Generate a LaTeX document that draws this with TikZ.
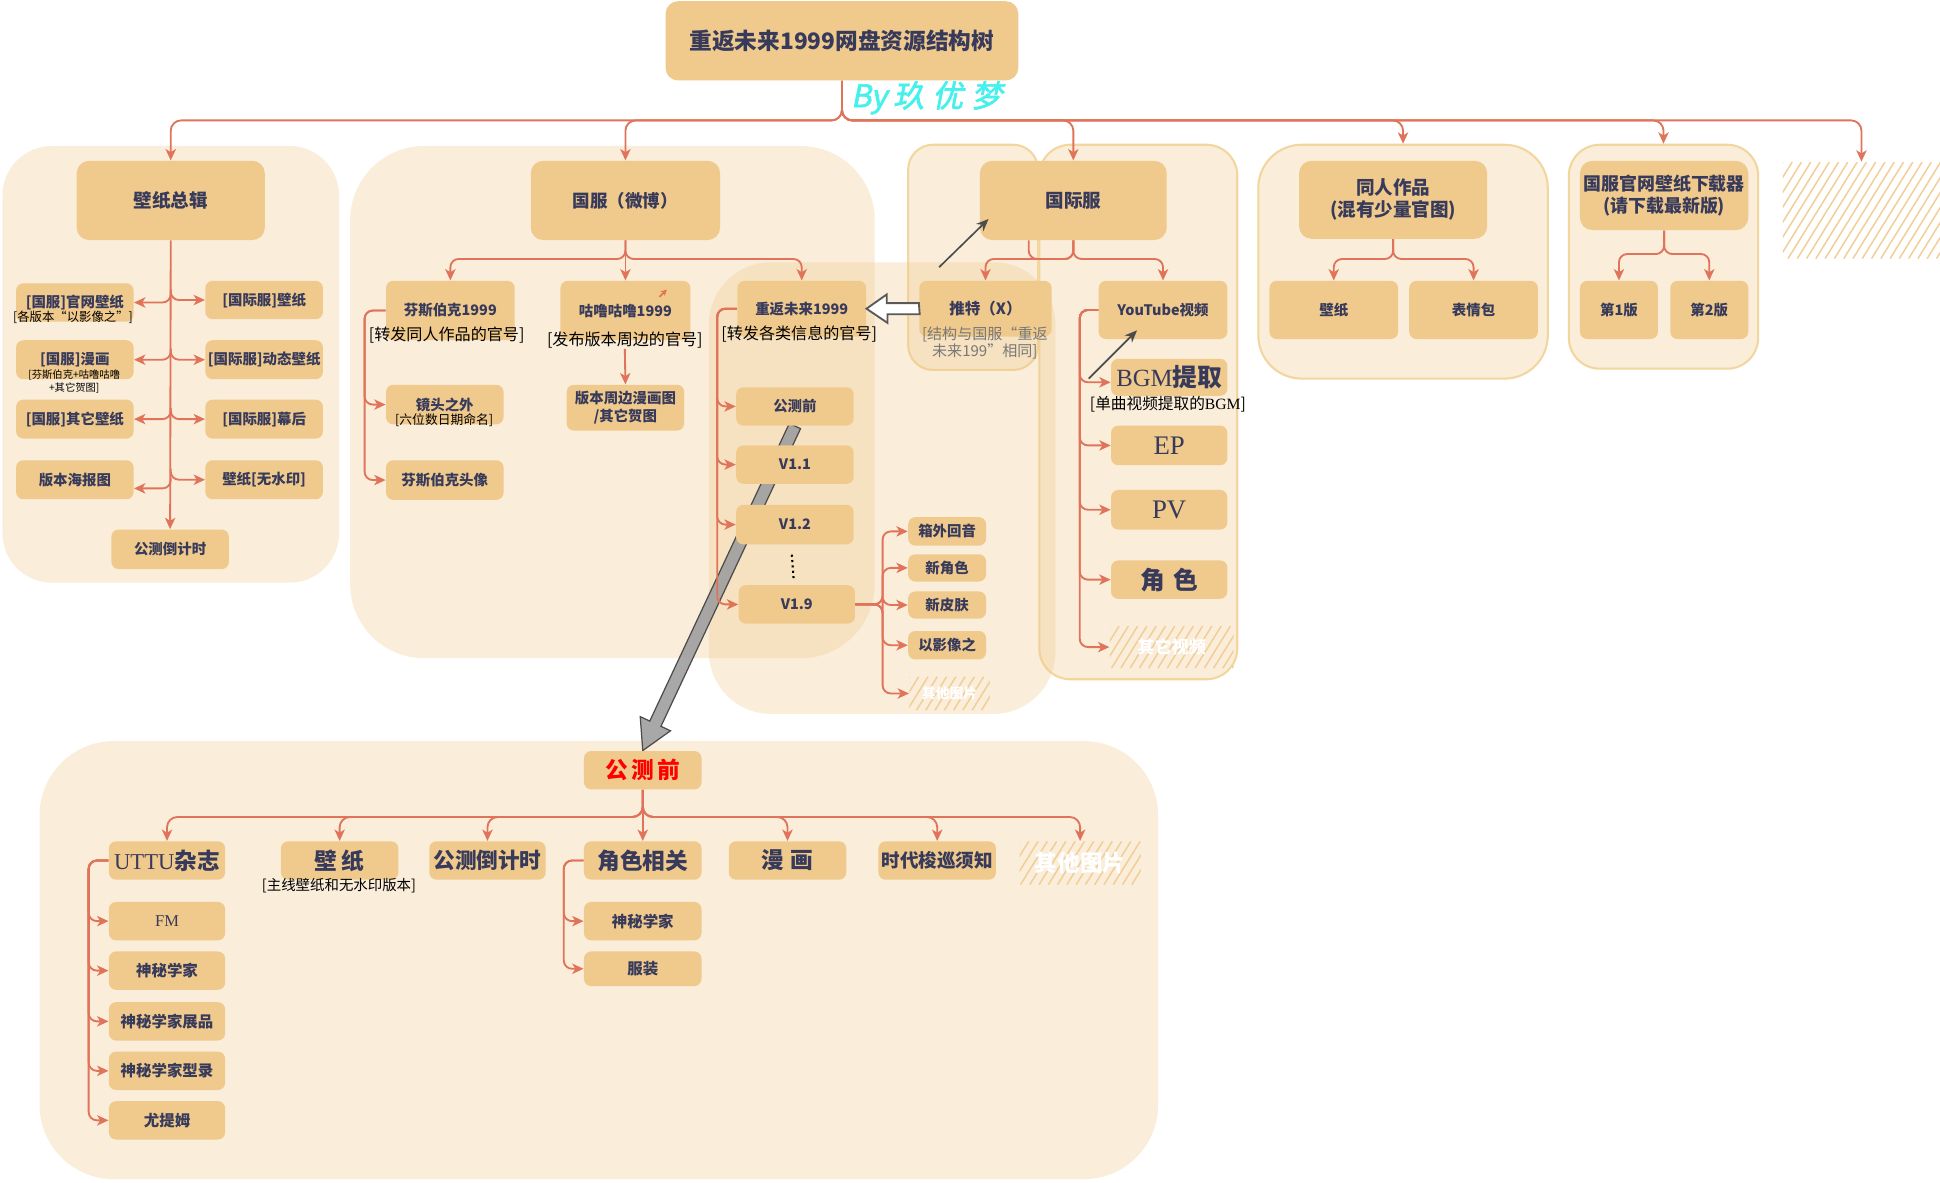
\documentclass[tikz,border=0pt]{standalone}
\usepackage{fontspec}
\setmainfont{Noto Sans CJK SC}
\newfontfamily\lser{Liberation Serif}
\newfontfamily\cyf{Noto Sans CJK SC}[FakeSlant=0.2,FakeBold=2]
\usetikzlibrary{arrows.meta,calc}
\definecolor{boxc}{RGB}{240,202,140}
\definecolor{grpc}{RGB}{240,200,140}
\definecolor{grpbc}{RGB}{242,214,158}
\definecolor{arrc}{RGB}{224,116,90}
\definecolor{txtc}{RGB}{55,58,90}
\definecolor{cyanc}{RGB}{70,240,236}
\definecolor{hatchc}{RGB}{242,205,150}
\definecolor{subgray}{RGB}{120,120,120}
\newcommand\fsz[1]{\fontsize{#1}{\fpeval{1.2*#1}}\selectfont}
\pgfdeclarelayer{grp}
\pgfdeclarelayer{bg}
\pgfsetlayers{grp,bg,main}
\tikzset{
 xbox/.style={fill=boxc, rounded corners=3.5pt, inner sep=0pt, text=txtc, align=center, font=\fsz{7}\bfseries},
 xbig/.style={rounded corners=6pt, font=\fsz{9}\bfseries},
 xgrp/.style={fill=grpc, fill opacity=0.32, rounded corners=24pt},
 xgrpb/.style={xgrp, draw=grpbc, line width=1pt},
 xsub/.style={inner sep=0pt, text=black, align=center, font=\fsz{7.8}},
 xconn/.style={draw=arrc, line width=0.9pt, rounded corners=4pt},
 xarr/.style={xconn, -{Stealth[length=5.5pt,width=5pt,inset=1.5pt]}},
 xthin/.style={draw=gray!60!black, line width=0.8pt, -{Stealth[length=6pt,width=5pt]}},
 xhollow/.style={draw=gray!70!black, fill=white, line width=0.9pt},
 xbigarr/.style={fill=gray!75, draw=gray!60!black, line width=0.6pt, fill opacity=0.9},
 xhtxt/.style={inner sep=0pt, text=white, font=\fsz{7}\bfseries, align=center},
}
\newcommand\mybox[7][]{\node[xbox,minimum width={(#5-#3)*0.6pt},minimum height={(#6-#4)*0.6pt},#1] (#2) at ({(#3+#5)/2},{(#4+#6)/2}) {#7};}
\newcommand\hatchbox[7][]{%
 \begin{scope}
 \clip (#3,#4) rectangle (#5,#6);
 \pgfmathsetmacro\hh{#6-#4}
 \pgfmathsetmacro\hs{#3-0.62*\hh}
 \pgfmathsetmacro\hn{\hs+7.5}
 \foreach \xx in {\hs,\hn,...,#5} {\draw[hatchc,line width=0.7pt] (\xx,#6) -- ++({0.62*\hh},{-\hh});}
 \end{scope}
 \node[xhtxt,minimum width={(#5-#3)*0.6pt},minimum height={(#6-#4)*0.6pt},#1] (#2) at ({(#3+#5)/2},{(#4+#6)/2}) {#7};}
\begin{document}
\begin{tikzpicture}[x=0.6pt,y=-0.6pt]
\useasboundingbox (0,0) rectangle (1568,956);
\begin{pgfonlayer}{grp}
\fill[white] (0,0) rectangle (1568,956);
\mybox[xgrp,rounded corners=24pt]{G1}{2}{118}{274}{471}{}
\mybox[xgrp,rounded corners=36pt]{G2}{283}{118}{707}{532}{}
\mybox[xgrpb,rounded corners=12pt]{G3}{734}{117}{839}{299}{}
\mybox[xgrpb,rounded corners=15pt]{G4}{840}{117}{1000}{549}{}
\mybox[xgrpb,rounded corners=21pt]{G6}{1017}{117}{1251}{306}{}
\mybox[xgrpb,rounded corners=15pt]{G7}{1268}{117}{1421}{298}{}
\mybox[xgrp,rounded corners=36pt]{G8}{32}{599}{936}{953}{}
\mybox[xgrp,rounded corners=30pt]{G5}{573}{212}{853}{577}{}
\end{pgfonlayer}

% ---- top
\mybox[xbig,font=\fsz{11}\bfseries]{title}{538}{1}{823}{65}{重返未来1999网盘资源结构树}
\node[text=cyanc,font=\cyf\fsz{15},inner sep=0pt] (by) at (749,79) {By\hspace{3pt}玖\hspace{4pt}优\hspace{4pt}梦};

% ---- left group
\mybox[xbig]{bz}{62}{130}{214}{194}{壁纸总辑}
\mybox{gw}{13}{229}{108}{260}{[国服]官网壁纸}
\node[xsub,font=\fsz{6}] (gws) at (59,256.5) {[各版本“以影像之”]};
\mybox{gj1}{166}{227}{261}{258}{[国际服]壁纸}
\mybox{mh}{13}{275}{108}{306.5}{[国服]漫画}
\node[xsub,font=\fontsize{5}{6.6}\selectfont] (mhs) at (60,308.5) {[芬斯伯克+咕噜咕噜\\+其它贺图]};
\mybox{gj2}{166}{275}{261}{306.5}{[国际服]动态壁纸}
\mybox{qt}{13}{323}{108}{354.5}{[国服]其它壁纸}
\mybox{gj3}{166}{323}{261}{354.5}{[国际服]幕后}
\mybox{hb}{13}{372}{108}{403.5}{版本海报图}
\mybox{gj4}{166}{372}{261}{403.5}{壁纸[无水印]}
\mybox{cd}{90}{428}{185}{460}{公测倒计时}

% ---- guofu group
\mybox[xbig,font=\fsz{8.5}\bfseries]{gf}{429}{130}{582}{194}{国服（微博）}
\mybox{fs}{312}{227}{416}{275}{芬斯伯克1999}
\node[xsub] (fss) at (361,271) {[转发同人作品的官号]};
\mybox{gl}{453}{227}{558}{275}{咕噜咕噜1999}
\node[xsub] (gls) at (505,275) {[发布版本周边的官号]};
\mybox{jt}{312}{311}{407}{343}{镜头之外}
\node[xsub,font=\fsz{6.2}] (jts) at (359,339.5) {[六位数日期命名]};
\mybox{fa}{312}{372}{407}{404}{芬斯伯克头像}
\mybox[font=\fontsize{7}{8.4}\selectfont\bfseries]{zb}{458}{311}{553}{348}{版本周边漫画图\\/其它贺图}

% ---- chongfan group
\mybox{cq}{596}{227}{700}{272}{重返未来1999}
\node[xsub] (cqs) at (646,270) {[转发各类信息的官号]};
\mybox{g0}{595}{313}{690}{344}{公测前}
\mybox{v11}{595}{360}{690}{391}{V1.1}
\mybox{v12}{595}{408}{690}{440}{V1.2}
\mybox{v19}{597}{473}{691}{504}{V1.9}
\mybox{c1}{734}{418}{797}{441}{箱外回音}
\mybox{c2}{734}{448}{797}{470}{新角色}
\mybox{c3}{734}{478}{797}{500}{新皮肤}
\mybox{c4}{734}{510}{797}{533}{以影像之}
\hatchbox[font=\fsz{6.7}\bfseries]{c5}{735}{547}{800}{574}{其他图片}

% ---- international
\mybox[xbig]{gj}{792}{130}{943}{194}{国际服}
\mybox[font=\fsz{7.5}\bfseries]{tw}{743}{227}{850}{272}{推特（X）}
\node[xsub,text=subgray,font=\fontsize{7.3}{8.4}\selectfont] (tws) at (796,277) {[结构与国服“重返\\未来199”相同]};
\mybox{yt}{888}{227}{992}{274}{YouTube视频}
\mybox[font=\fsz{12}\bfseries]{bg}{898}{290}{992}{320}{{\lser\mdseries BGM}提取}
\node[xsub,font=\fsz{7.6}] (bgs) at (944,326.5) {[单曲视频提取的{\lser BGM}]};
\mybox[font=\fsz{13}]{ep}{898}{344}{992}{376}{\lser EP}
\mybox[font=\fsz{13}]{pv}{898}{396}{992}{428}{\lser PV}
\mybox[font=\fsz{12}\bfseries]{js}{898}{453}{992}{484}{角\hspace{4pt}色}
\hatchbox[font=\fsz{8.3}\bfseries]{qv}{897}{506}{997}{540}{其它视频}

% ---- doujin / downloader
\mybox[xbig]{tr}{1050}{130}{1202}{193}{同人作品\\(混有少量官图)}
\mybox{t1}{1026}{227}{1130}{274}{壁纸}
\mybox{t2}{1139}{227}{1243}{274}{表情包}
\mybox[xbig,font=\fontsize{8.7}{11}\selectfont\bfseries]{xz}{1277}{130}{1413}{186}{国服官网壁纸下载器\\(请下载最新版)}
\mybox{d1}{1277}{227}{1340}{274}{第1版}
\mybox{d2}{1350}{227}{1413}{274}{第2版}
\hatchbox{ht}{1441}{131}{1568}{209}{}

% ---- bottom
\mybox[font=\fsz{11}\bfseries,text=red]{bq}{472}{607}{567}{638}{公\hspace{1.5pt}测\hspace{1.5pt}前}
\mybox[font=\fsz{11}\bfseries]{b1}{88}{680}{182}{711}{{\lser\mdseries UTTU}杂志}
\mybox[font=\fsz{11}\bfseries]{b2}{227}{680}{322}{711}{壁\hspace{2pt}纸}
\node[xsub,font=\fsz{7}] (b2s) at (274,715.5) {[主线壁纸和无水印版本]};
\mybox[font=\fsz{10.5}\bfseries]{b3}{347}{680}{441}{711}{公测倒计时}
\mybox[font=\fsz{11}\bfseries]{b4}{472}{680}{567}{711}{角色相关}
\mybox[font=\fsz{11}\bfseries]{b5}{589}{680}{684}{711}{漫\hspace{3pt}画}
\mybox[font=\fsz{9}\bfseries]{b6}{710}{680}{805}{711}{时代梭巡须知}
\hatchbox[font=\fsz{11}\bfseries]{b7}{824}{680}{922}{715}{其他图片}
\mybox[font=\fsz{8}]{u1}{88}{729}{182}{760}{\lser FM}
\mybox[font=\fsz{7.5}\bfseries]{u2}{88}{769}{182}{800}{神秘学家}
\mybox[font=\fsz{7.5}\bfseries]{u3}{88}{810}{182}{841}{神秘学家展品}
\mybox[font=\fsz{7.5}\bfseries]{u4}{88}{850}{182}{881}{神秘学家型录}
\mybox[font=\fsz{7.5}\bfseries]{u5}{88}{890}{182}{921}{尤提姆}
\mybox[font=\fsz{7.5}\bfseries]{r1}{472}{729}{567}{760}{神秘学家}
\mybox[font=\fsz{7.5}\bfseries]{r2}{472}{769}{567}{797}{服装}

% ---- connectors (under boxes)
\begin{pgfonlayer}{bg}
% big gray arrow
\coordinate (ga1) at (g0.south);
\coordinate (ga2) at (bq.north);
\coordinate (gab) at ($(ga2)!14.4pt!(ga1)$);
\filldraw[xbigarr] ($(ga1)!3pt!90:(ga2)$) -- ($(gab)!3pt!90:(ga2)$) -- ($(gab)!8.1pt!90:(ga2)$) -- (ga2) -- ($(gab)!8.1pt!-90:(ga2)$) -- ($(gab)!3pt!-90:(ga2)$) -- ($(ga1)!3pt!-90:(ga2)$) -- cycle;
% trunk
\foreach \n in {bz,gf,gj,G6,G7,ht} \draw[xarr,rounded corners=5pt] (title.south) -- ++(0,32) -| (\n.north);
% left group
\draw[xarr] (bz.south) -- (cd.north);
\foreach \n in {gw,mh,qt} \draw[xarr] ($(bz.south|-\n.east)+(0,-9)$) -- (bz.south|-\n.east) -- (\n.east);
\draw[xarr] ($(bz.south|-hb.east)+(0,-2)$) -- ($(bz.south|-hb.east)+(0,7)$) -- ($(hb.east)+(0,7)$);
\foreach \n in {gj1,gj2,gj3,gj4} \draw[xarr] ($(bz.south|-\n.west)+(0,-9)$) -- (bz.south|-\n.west) -- (\n.west);
% guofu
\draw[xarr] (gf.south) -- ++(0,15) -| (fs.north);
\draw[xarr] (gf.south) -- (gl.north);
\draw[xarr] (gf.south) -- ++(0,15) -| (cq.north);
\draw[xarr] (gls.south) -- (zb.north);
\draw[xarr] (fs.west) -- ++(-17,0) |- (jt.west);
\draw[xarr] (fs.west) -- ++(-17,0) |- (fa.west);
% chongfan
\foreach \n in {g0,v11,v12,v19} \draw[xarr] (cq.west) -- ++(-16,0) |- (\n.west);
\foreach \n in {c1,c2,c3,c4,c5} \draw[xarr] (v19.east) -- ++(22,0) |- (\n.west);
% international
\draw[xarr] (gj.south) -- ++(0,15) -| (tw.north);
\draw[xarr] (gj.south) -- ++(0,15) -| (yt.north);
\draw[xconn] (gj.south) -- ++(0,15) -- ++(-36,0) -- ++(0,-15);
\draw[xarr] (yt.west) -- ++(-15,0) |- ($(bg.west)+(0,4)$);
\foreach \n in {ep,pv,js,qv} \draw[xarr] (yt.west) -- ++(-15,0) |- (\n.west);
% doujin / downloader
\draw[xarr] (tr.south) -- ++(0,16) -| (t1.north);
\draw[xarr] (tr.south) -- ++(0,16) -| (t2.north);
\draw[xarr] (xz.south) -- ++(0,19) -| (d1.north);
\draw[xarr] (xz.south) -- ++(0,19) -| (d2.north);
% bottom
\foreach \n in {b1,b2,b3,b5,b6,b7} \draw[xarr,rounded corners=5pt] (bq.south) -- ++(0,22) -| (\n.north);
\draw[xarr] (bq.south) -- (b4.north);
\foreach \n in {u1,u2,u3,u4,u5} \draw[xarr] (b1.west) -- ++(-16,0) |- (\n.west);
\foreach \n in {r1,r2} \draw[xarr] (b4.west) -- ++(-16,0) |- (\n.west);
\end{pgfonlayer}

% ---- on top
\draw[line width=1pt, dash pattern=on 1pt off 1.6pt] ($(v12.south)+(-2.5,8)$) -- ($(v19.north)+(-2.5,-4)$);
\draw[xhollow] ($(tw.west)+(0,-4.5)$) -- ++(-26,0) -- ++(0,-7) -- (cq.east) -- ++(17,11.5) -- ++(0,-7) -- ++(26,0) -- cycle;
\coordinate (ta1) at (759,216); \coordinate (ta2) at (799,177);
\draw[xthin] (ta1) -- (ta2);
\coordinate (ya1) at (880,306); \coordinate (ya2) at (919,267);
\draw[xthin] (ya1) -- (ya2);
\coordinate (sa1) at (533,240); \coordinate (sa2) at (539,234);
\draw[draw=arrc, line width=0.9pt, -{Stealth[length=3pt,width=3pt]}] (sa1) -- (sa2);
\end{tikzpicture}
\end{document}
